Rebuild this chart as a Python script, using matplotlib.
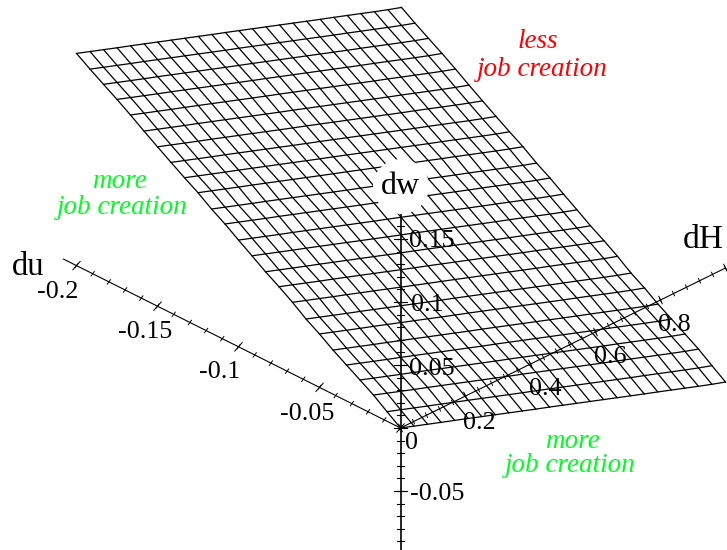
import matplotlib
import matplotlib.pyplot as plt
import numpy as np
from matplotlib.patches import Ellipse

matplotlib.use("Agg")

plt.rcParams["font.family"] = ["Liberation Serif", "DejaVu Serif"]

# dw read along the dH = 0 edge, from du = 0 out to du = -0.2
dw_along_du = [
    0.0, 0.0076, 0.0154, 0.0220, 0.0285, 0.0350, 0.0424, 0.0489, 0.0568,
    0.0638, 0.0703, 0.0776, 0.0847, 0.0921, 0.0986, 0.1062, 0.1127, 0.1195,
    0.1265, 0.1336, 0.1410, 0.1480, 0.1546, 0.1613, 0.1684,
]
# dw change read along the du = 0 edge, from dH = 0 to dH = 1
dw_along_dH = [
    0.0, -0.0038, -0.0076, -0.0114, -0.0151, -0.0189, -0.0227, -0.0265, -0.0303,
    -0.0341, -0.0379, -0.0416, -0.0454, -0.0492, -0.0530, -0.0568, -0.0606,
    -0.0644, -0.0682, -0.0719, -0.0757, -0.0795, -0.0833, -0.0870, -0.0905,
]
du_grid = np.linspace(0, -0.2, len(dw_along_du))
dH_grid = np.linspace(0, 1, len(dw_along_dH))

du_ticks = [-0.2, -0.15, -0.1, -0.05]
du_labels = ["-0.2", "-0.15", "-0.1", "-0.05"]
dH_ticks = [0.2, 0.4, 0.6, 0.8]
dH_labels = ["0.2", "0.4", "0.6", "0.8"]
dw_ticks = [-0.05, 0.05, 0.1, 0.15]
dw_labels = ["-0.05", "0.05", "0.1", "0.15"]

GREEN = "#00ff20"
RED = "#ff0000"


def project(du, dH, dw):
    # oblique view, result in image pixels
    du, dH, dw = np.broadcast_arrays(du, dH, dw)
    x = 400.5 + 1620 * du + 325 * dH
    y = 428 + 812 * du - 160 * dH - 1260 * dw
    return x, y


def draw_ticks(ax, xs, ys, half, lw):
    for x, y in zip(xs, ys):
        ax.plot([x - half[0], x + half[0]], [y - half[1], y + half[1]],
                color="black", linewidth=lw, zorder=3)


def put_text(ax, x, y, s, size=18.7, **kwargs):
    # va="center" sits a little high for this font
    ax.text(x, y + 2, s, fontsize=size, ha="center", va="center", zorder=5, **kwargs)


fig = plt.figure(figsize=(7.27, 5.5), dpi=100)
ax = fig.add_axes([0, 0, 1, 1])
ax.set_xlim(0, 727)
ax.set_ylim(550, 0)
ax.axis("off")

# surface mesh
U, H = np.meshgrid(du_grid, dH_grid, indexing="ij")
W = np.add.outer(dw_along_du, dw_along_dH)
X, Y = project(U, H, W)
for i in range(X.shape[0]):
    ax.plot(X[i], Y[i], color="black", linewidth=0.9, zorder=2)
for j in range(X.shape[1]):
    ax.plot(X[:, j], Y[:, j], color="black", linewidth=0.9, zorder=2)

# du axis
x, y = project([0, -0.208], 0, 0)
ax.plot(x, y, color="black", linewidth=0.8, zorder=3)
minor = np.arange(0, -0.205, -0.01)
x, y = project(minor, 0, 0)
draw_ticks(ax, x, y, (1.6, -2.2), 0.7)
x, y = project([0] + du_ticks, 0, 0)
draw_ticks(ax, x, y, (3.7, -4.2), 0.7)

# dH axis
x, y = project(0, [0, 1.0], 0)
ax.plot(x, y, color="black", linewidth=0.8, zorder=3)
minor = np.arange(0, 1.01, 0.04)
x, y = project(0, minor, 0)
draw_ticks(ax, x, y, (1.0, 2.2), 0.7)
x, y = project(0, [0] + dH_ticks + [1.0], 0)
draw_ticks(ax, x, y, (1.8, 3.8), 0.7)

# dw axis
x, y = project(0, 0, [-0.1, 0.17])
ax.plot(x, y, color="black", linewidth=1.2, zorder=3)
minor = np.arange(-0.1, 0.165, 0.01)
x, y = project(0, 0, minor)
draw_ticks(ax, x, y, (3.5, 0), 0.8)
x, y = project(0, 0, [0] + dw_ticks)
draw_ticks(ax, x, y, (6.7, 0), 0.8)

# tick labels
for (px, py), s in zip([(58, 290), (145, 330), (220, 370), (307, 412)], du_labels):
    put_text(ax, px, py, s)
for (px, py), s in zip([(479, 421), (545, 387), (610, 355), (674, 323)], dH_labels):
    put_text(ax, px, py, s)
for (px, py), s in zip([(437, 492), (432, 367), (427, 303), (432, 239)], dw_labels):
    put_text(ax, px, py, s)
put_text(ax, 411, 441, "0")
put_text(ax, 731, 289, "1")

# axis names
put_text(ax, 28, 265, "du", size=23.5)
put_text(ax, 703, 238, "dH", size=24)
ax.add_patch(Ellipse((401, 186.5), 56, 55, facecolor="white", edgecolor="none", zorder=4))
put_text(ax, 400, 185, "dw", size=23)

# annotations
put_text(ax, 538, 40, "less", size=19.5, color=RED, style="italic")
put_text(ax, 542, 67, "job creation", size=19.5, color=RED, style="italic")
put_text(ax, 119, 180, "more", size=19.5, color=GREEN, style="italic")
put_text(ax, 122, 205, "job creation", size=19.5, color=GREEN, style="italic")
put_text(ax, 572, 439, "more", size=19.5, color=GREEN, style="italic")
put_text(ax, 570, 464, "job creation", size=19.5, color=GREEN, style="italic")

fig.savefig("out.png", dpi=100)
